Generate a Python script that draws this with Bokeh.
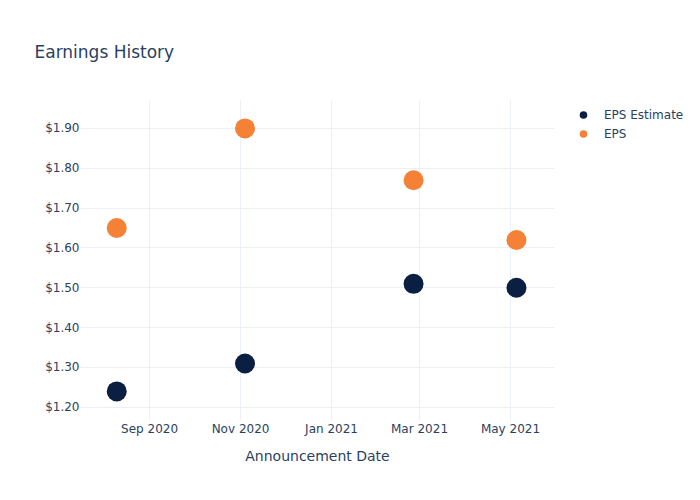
from datetime import datetime
from bokeh.plotting import figure
from bokeh.models import (ColumnDataSource, Range1d, FixedTicker, DatetimeTickFormatter,
                          NumeralTickFormatter, Legend, LegendItem)
from bokeh.embed import file_html
from bokeh.resources import INLINE

dates = ["2020-08-10", "2020-11-04", "2021-02-25", "2021-05-05"]
eps_estimate = [1.24, 1.31, 1.51, 1.50]
eps_actual = [1.65, 1.90, 1.77, 1.62]
x_tick_dates = ["2020-09-01", "2020-11-01", "2021-01-01", "2021-03-01", "2021-05-01"]
y_ticks = [1.2, 1.3, 1.4, 1.5, 1.6, 1.7, 1.8, 1.9]

def ms(s):
    return (datetime.strptime(s, "%Y-%m-%d") - datetime(1970, 1, 1)).total_seconds() * 1000.0

DAY = 86400000.0
src = ColumnDataSource(dict(x=[ms(d) for d in dates], est=eps_estimate, eps=eps_actual))

FONT = "DejaVu Sans"
TXT = "#2a3f5f"

p = figure(frame_width=474, frame_height=320, output_backend="svg", toolbar_location=None,
           x_axis_type="datetime",
           x_range=Range1d(ms("2020-07-17") - 0.3 * DAY, ms("2021-05-30") + 0.5 * DAY),
           y_range=Range1d(1.167, 1.970),
           min_border_left=80, min_border_right=146, min_border_top=100, min_border_bottom=80)
p.outline_line_color = None
p.background_fill_color = "white"
p.border_fill_color = "white"

r1 = p.scatter("x", "est", source=src, size=20, color="#0b1f42", line_color=None)
r2 = p.scatter("x", "eps", source=src, size=20, color="#f58137", line_color=None)

p.xaxis.ticker = FixedTicker(ticks=[ms(d) for d in x_tick_dates])
p.xaxis.formatter = DatetimeTickFormatter(days="%b %Y", months="%b %Y", years="%b %Y",
                                          hours="%b %Y", minutes="%b %Y")
p.yaxis.ticker = FixedTicker(ticks=y_ticks)
p.yaxis.formatter = NumeralTickFormatter(format="$0.00")

for ax in (p.xaxis, p.yaxis):
    ax.axis_line_color = None
    ax.major_tick_line_color = None
    ax.minor_tick_line_color = None
    ax.major_tick_out = 0
    ax.major_tick_in = 0
    ax.minor_tick_out = 0
    ax.minor_tick_in = 0
    ax.major_label_text_font = FONT
    ax.major_label_text_font_size = "12px"
    ax.major_label_text_color = TXT
p.xaxis.major_label_standoff = 1
p.yaxis.major_label_standoff = 1
p.xaxis.axis_label = "Announcement Date"
p.xaxis.axis_label_text_font = FONT
p.xaxis.axis_label_text_font_size = "14px"
p.xaxis.axis_label_text_font_style = "normal"
p.xaxis.axis_label_text_color = TXT
p.xaxis.axis_label_standoff = 9

p.xgrid.grid_line_color = "#ebf0f8"
p.ygrid.grid_line_color = "#ebf0f8"
p.xgrid.grid_line_width = 1
p.ygrid.grid_line_width = 1

legend = Legend(items=[LegendItem(label="EPS Estimate", renderers=[r1]),
                       LegendItem(label="EPS", renderers=[r2])],
                location=(19, 277), border_line_color=None, background_fill_alpha=0,
                label_text_font=FONT, label_text_font_size="12px", label_text_color=TXT,
                glyph_width=20, glyph_height=19, spacing=0, padding=4, margin=0,
                label_standoff=11)
p.add_layout(legend, "right")

p.title.text = "Earnings History"
p.title.align = "left"
p.title.offset = -46
p.title.standoff = 78
p.title.text_font = FONT
p.title.text_font_size = "17px"
p.title.text_font_style = "normal"
p.title.text_color = TXT

open("out.html", "w").write(file_html(p, INLINE))
